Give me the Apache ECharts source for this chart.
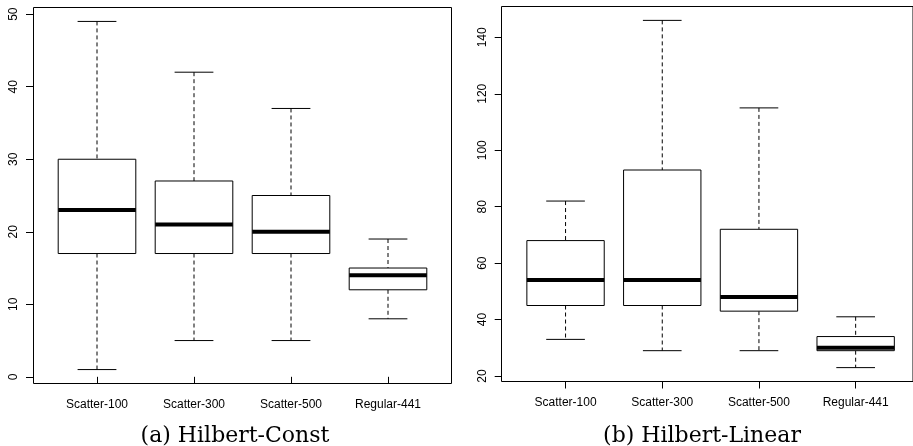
<!DOCTYPE html>
<html>
<head>
<meta charset="utf-8">
<script src="https://cdn.jsdelivr.net/npm/echarts@6/dist/echarts.min.js"></script>
<style>
  html, body { margin: 0; padding: 0; background: #fff; }
  #chart { width: 913px; height: 446px; }
</style>
</head>
<body>
<div id="chart"></div>
<script>
const categories = ['Scatter-100', 'Scatter-300', 'Scatter-500', 'Regular-441']

// (a) Hilbert-Const
const constLow = [1, 5, 5, 8]
const constQ1 = [17, 17, 17, 12]
const constMedian = [23, 21, 20, 14]
const constQ3 = [30, 27, 25, 15]
const constHigh = [49, 42, 37, 19]
const constTicks = [0, 10, 20, 30, 40, 50]

// (b) Hilbert-Linear
const linearLow = [33, 29, 29, 23]
const linearQ1 = [45, 45, 43, 29]
const linearMedian = [54, 54, 48, 30]
const linearQ3 = [68, 93, 72, 34]
const linearHigh = [82, 146, 115, 41]
const linearTicks = [20, 40, 60, 80, 100, 120, 140]

const captions = ['(a) Hilbert-Const', '(b) Hilbert-Linear']

function rows(low, q1, med, q3, high) {
  return categories.map((c, i) => [i, low[i], q1[i], med[i], q3[i], high[i]])
}

// R style box: dashed whiskers, short caps, thick median
function renderBox(params, api) {
  const idx = api.value(0)
  const lo = api.coord([idx, api.value(1)])
  const q1 = api.coord([idx, api.value(2)])
  const md = api.coord([idx, api.value(3)])
  const q3 = api.coord([idx, api.value(4)])
  const hi = api.coord([idx, api.value(5)])
  const band = api.size([1, 0])[0]
  const x = md[0]
  const hw = band * 0.4
  const cw = band * 0.2
  const dashed = { stroke: '#000', lineWidth: 1, lineDash: [4, 3] }
  const solid = { stroke: '#000', lineWidth: 1 }
  return {
    type: 'group',
    children: [
      { type: 'line', shape: { x1: x, y1: hi[1], x2: x, y2: q3[1] }, style: dashed },
      { type: 'line', shape: { x1: x, y1: q1[1], x2: x, y2: lo[1] }, style: dashed },
      { type: 'line', shape: { x1: x - cw, y1: hi[1], x2: x + cw, y2: hi[1] }, style: solid },
      { type: 'line', shape: { x1: x - cw, y1: lo[1], x2: x + cw, y2: lo[1] }, style: solid },
      { type: 'rect', shape: { x: x - hw, y: q3[1], width: hw * 2, height: q1[1] - q3[1] }, style: { fill: '#fff', stroke: '#000', lineWidth: 1 } },
      { type: 'line', shape: { x1: x - hw, y1: md[1], x2: x + hw, y2: md[1] }, style: { stroke: '#000', lineWidth: 4 } }
    ]
  }
}

const labelFont = { color: '#000', fontSize: 12, fontFamily: 'Liberation Sans, Arial, sans-serif' }

function frameAxes(gridIndex) {
  return {
    x: { type: 'value', gridIndex, show: false, min: 0, max: 1 },
    y: { type: 'value', gridIndex, show: false, min: 0, max: 1 }
  }
}

function dataXAxis(gridIndex) {
  return {
    type: 'category',
    gridIndex,
    data: categories,
    boundaryGap: true,
    axisLine: { show: false },
    axisTick: { show: true, alignWithLabel: true, length: 7, lineStyle: { color: '#000' } },
    axisLabel: Object.assign({ margin: 15, interval: 0 }, labelFont),
    splitLine: { show: false }
  }
}

function dataYAxis(gridIndex, min, max, ticks) {
  return {
    type: 'value',
    gridIndex,
    min,
    max,
    offset: 15.5,
    axisLine: { show: false },
    axisTick: { show: true, length: 7, customValues: ticks, lineStyle: { color: '#000' } },
    axisLabel: Object.assign({ rotate: 90, margin: 13, customValues: ticks }, labelFont),
    splitLine: { show: false }
  }
}

const chart = echarts.init(document.getElementById('chart'), null, { renderer: 'canvas' })
const f0 = frameAxes(0)
const f2 = frameAxes(2)

chart.setOption({
  backgroundColor: '#fff',
  animation: false,
  title: [
    {
      text: captions[0], left: 230, top: 420, textAlign: 'center',
      textStyle: { color: '#000', fontSize: 22, fontWeight: 'normal', fontFamily: 'DejaVu Serif, serif' }
    },
    {
      text: captions[1], left: 697, top: 420, textAlign: 'center',
      textStyle: { color: '#000', fontSize: 22, fontWeight: 'normal', fontFamily: 'DejaVu Serif, serif' }
    }
  ],
  grid: [
    { left: 33.5, top: 7.5, width: 418, height: 376, show: true, borderColor: '#000', borderWidth: 1, backgroundColor: 'transparent' },
    { left: 48.5, top: 7.5, width: 388, height: 376 },
    { left: 501.5, top: 6.5, width: 418, height: 375, show: true, borderColor: '#000', borderWidth: 1, backgroundColor: 'transparent' },
    { left: 517.2, top: 6.5, width: 386.8, height: 375 }
  ],
  xAxis: [f0.x, dataXAxis(1), f2.x, dataXAxis(3)],
  yAxis: [f0.y, dataYAxis(1, -0.92, 50.92, constTicks), f2.y, dataYAxis(3, 18.08, 150.92, linearTicks)],
  series: [
    {
      type: 'custom',
      name: 'Hilbert-Const',
      xAxisIndex: 1,
      yAxisIndex: 1,
      renderItem: renderBox,
      encode: { x: 0, y: [1, 2, 3, 4, 5] },
      data: rows(constLow, constQ1, constMedian, constQ3, constHigh)
    },
    {
      type: 'custom',
      name: 'Hilbert-Linear',
      xAxisIndex: 3,
      yAxisIndex: 3,
      renderItem: renderBox,
      encode: { x: 0, y: [1, 2, 3, 4, 5] },
      data: rows(linearLow, linearQ1, linearMedian, linearQ3, linearHigh)
    }
  ]
})
</script>
</body>
</html>
